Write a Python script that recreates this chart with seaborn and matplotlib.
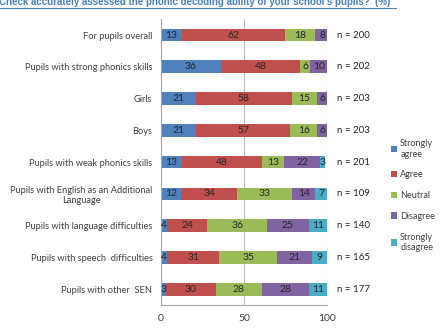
import numpy as np
import pandas as pd
import seaborn as sns
import matplotlib.pyplot as plt
from matplotlib.patches import Patch
from matplotlib.lines import Line2D

groups = ['For pupils overall', 'Pupils with strong phonics skills', 'Girls', 'Boys',
          'Pupils with weak phonics skills', 'Pupils with English as an Additional\nLanguage',
          'Pupils with language difficulties', 'Pupils with speech  difficulties',
          'Pupils with other  SEN']
strongly_agree = [13, 36, 21, 21, 13, 12, 4, 4, 3]
agree = [62, 48, 58, 57, 48, 34, 24, 31, 30]
neutral = [18, 6, 15, 16, 13, 33, 36, 35, 28]
disagree = [8, 10, 6, 6, 22, 14, 25, 21, 28]
strongly_disagree = [0, 0, 0, 0, 3, 7, 11, 9, 11]
n_pupils = [200, 202, 203, 203, 201, 109, 140, 165, 177]

responses = ['Strongly\nagree', 'Agree', 'Neutral', 'Disagree', 'Strongly\ndisagree']
colors = ['#4F81BD', '#C0504D', '#9BBB59', '#8064A2', '#4BACC6']

df = pd.DataFrame({'group': groups, 'sa': strongly_agree, 'a': agree, 'n': neutral,
                   'd': disagree, 'sd': strongly_disagree})
cols = ['sa', 'a', 'n', 'd', 'sd']
cum = df[cols].cumsum(axis=1)

sns.set_style('white')
plt.rcParams['font.family'] = ['Lato', 'DejaVu Sans']

fig = plt.figure(figsize=(4.48, 3.36), dpi=100)
ax = fig.add_axes([0.359, 0.092, 0.371, 0.851])

# stacked bars: draw the longest cumulative first, overlay shorter ones
for col, c in zip(cols[::-1], colors[::-1]):
    sns.barplot(x=cum[col], y=df['group'], color=c, orient='h', width=0.4,
                ax=ax, saturation=1, edgecolor='none', linewidth=0, zorder=2)

for i in range(len(groups)):
    start = 0
    for col in cols:
        v = df.loc[i, col]
        if v > 0:
            ax.text(start + v / 2, i, str(v), ha='center', va='center',
                    fontsize=7.5, color='#262626', zorder=3)
        start += v
    ax.text(106, i, 'n = %d' % n_pupils[i], ha='left', va='center',
            fontsize=7, color='#262626', clip_on=False)

ax.set_xlim(0, 100)
ax.set_ylim(len(groups) - 0.5, -0.5)
ax.set_xticks([0, 50, 100])
ax.set_xlabel('')
ax.set_ylabel('')
ax.xaxis.grid(True, color='#BFBFBF', linewidth=0.8, zorder=0)
ax.set_axisbelow(True)
for s in ['top', 'right']:
    ax.spines[s].set_visible(False)
for s in ['left', 'bottom']:
    ax.spines[s].set_color('#A6A6A6')
    ax.spines[s].set_linewidth(0.8)
ax.tick_params(axis='y', length=0, labelsize=6.7, labelcolor='#404040', pad=6)
ax.tick_params(axis='x', length=3, color='#A6A6A6', labelsize=7.5, labelcolor='#404040')
ax.set_yticks(np.arange(-0.5, len(groups), 1), minor=True)
ax.tick_params(axis='y', which='minor', length=4, color='#A6A6A6', direction='out')
for lab in ax.get_yticklabels():
    lab.set_multialignment('center')

handles = [Patch(facecolor=c, edgecolor='none') for c in colors]
fig.legend(handles, responses, loc='upper left', bbox_to_anchor=(0.855, 0.61),
           frameon=False, fontsize=6.5, labelcolor='#404040', handlelength=0.7,
           handleheight=0.7, handletextpad=0.3, labelspacing=1.3)

fig.text(-0.003, 0.995, "Check accurately assessed the phonic decoding ability of your school's pupils?' (%)",
         fontsize=7, fontweight='bold', color='#4A7EBB', ha='left', va='center',
         family=['Liberation Sans', 'DejaVu Sans'])
fig.add_artist(Line2D([0, 0.885], [0.976, 0.976], color='#4A7EBB', linewidth=0.8))

fig.savefig('out.png', dpi=100)
